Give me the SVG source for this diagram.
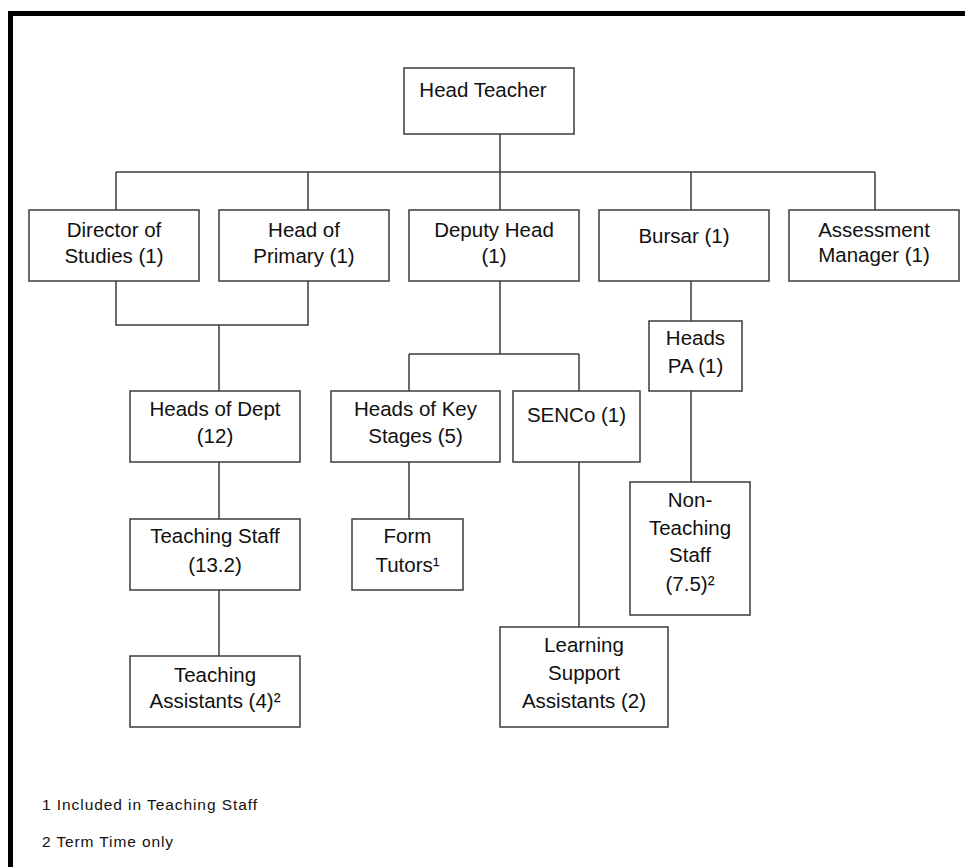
<svg xmlns="http://www.w3.org/2000/svg" width="965" height="867" viewBox="0 0 965 867">
<style>
.box{fill:#fff;stroke:#3c3c3c;stroke-width:1.5}
.ln{fill:none;stroke:#3c3c3c;stroke-width:1.5}
.t{font-family:"Liberation Sans",Arial,sans-serif;font-size:20.5px;fill:#111;text-anchor:middle}
.f{font-family:"Liberation Sans",Arial,sans-serif;font-size:15.5px;fill:#111}
</style>
<rect width="965" height="867" fill="#fff"/>
<path d="M10.5 867 V13.5 H965" fill="none" stroke="#000" stroke-width="5"/>
<g id="connectors" class="ln">
<path d="M500 134 V172 M116 172 H875 M116 172 V210 M308 172 V210 M500 172 V210 M691 172 V210 M875 172 V210"/>
<path d="M116 281 V325 H308 V281 M219 325 V391"/>
<path d="M219 462 V519 M219 590 V656"/>
<path d="M500 281 V354 M409 354 H579 M409 354 V391 M579 354 V391"/>
<path d="M409 462 V519 M579 462 V627"/>
<path d="M691 281 V321 M691 391 V482"/>
</g>
<g id="head-teacher"><rect class="box" x="404" y="68" width="170" height="66"/><text class="t" x="483" y="97">Head Teacher</text></g>
<g id="director-of-studies"><rect class="box" x="29" y="210" width="170" height="71"/><text class="t" x="114" y="237">Director of</text><text class="t" x="114" y="263">Studies (1)</text></g>
<g id="head-of-primary"><rect class="box" x="219" y="210" width="170" height="71"/><text class="t" x="304" y="237">Head of</text><text class="t" x="304" y="263">Primary (1)</text></g>
<g id="deputy-head"><rect class="box" x="409" y="210" width="170" height="71"/><text class="t" x="494" y="237">Deputy Head</text><text class="t" x="494" y="263">(1)</text></g>
<g id="bursar"><rect class="box" x="599" y="210" width="170" height="71"/><text class="t" x="684" y="243">Bursar (1)</text></g>
<g id="assessment-manager"><rect class="box" x="789" y="210" width="170" height="71"/><text class="t" x="874" y="237">Assessment</text><text class="t" x="874" y="262">Manager (1)</text></g>
<g id="heads-of-dept"><rect class="box" x="130" y="391" width="170" height="71"/><text class="t" x="215" y="416">Heads of Dept</text><text class="t" x="215" y="443">(12)</text></g>
<g id="heads-of-key-stages"><rect class="box" x="331" y="391" width="169" height="71"/><text class="t" x="415.5" y="416">Heads of Key</text><text class="t" x="415.5" y="443">Stages (5)</text></g>
<g id="senco"><rect class="box" x="513" y="391" width="127" height="71"/><text class="t" x="576.5" y="422">SENCo (1)</text></g>
<g id="heads-pa"><rect class="box" x="649" y="321" width="93" height="70"/><text class="t" x="695.5" y="345">Heads</text><text class="t" x="695.5" y="373">PA (1)</text></g>
<g id="teaching-staff"><rect class="box" x="130" y="519" width="170" height="71"/><text class="t" x="215" y="543">Teaching Staff</text><text class="t" x="215" y="572">(13.2)</text></g>
<g id="form-tutors"><rect class="box" x="352" y="519" width="111" height="71"/><text class="t" x="407.5" y="543">Form</text><text class="t" x="407.5" y="572">Tutors¹</text></g>
<g id="non-teaching-staff"><rect class="box" x="630" y="482" width="120" height="133"/><text class="t" x="690" y="507">Non-</text><text class="t" x="690" y="535">Teaching</text><text class="t" x="690" y="562">Staff</text><text class="t" x="690" y="591">(7.5)²</text></g>
<g id="teaching-assistants"><rect class="box" x="130" y="656" width="170" height="71"/><text class="t" x="215" y="682">Teaching</text><text class="t" x="215" y="708">Assistants (4)²</text></g>
<g id="learning-support-assistants"><rect class="box" x="500" y="627" width="168" height="100"/><text class="t" x="584" y="652">Learning</text><text class="t" x="584" y="680">Support</text><text class="t" x="584" y="708">Assistants (2)</text></g>
<g id="footnotes"><text class="f" x="42" y="810" textLength="215" lengthAdjust="spacing">1 Included in Teaching Staff</text><text class="f" x="42" y="847" textLength="131" lengthAdjust="spacing">2 Term Time only</text></g>
</svg>
